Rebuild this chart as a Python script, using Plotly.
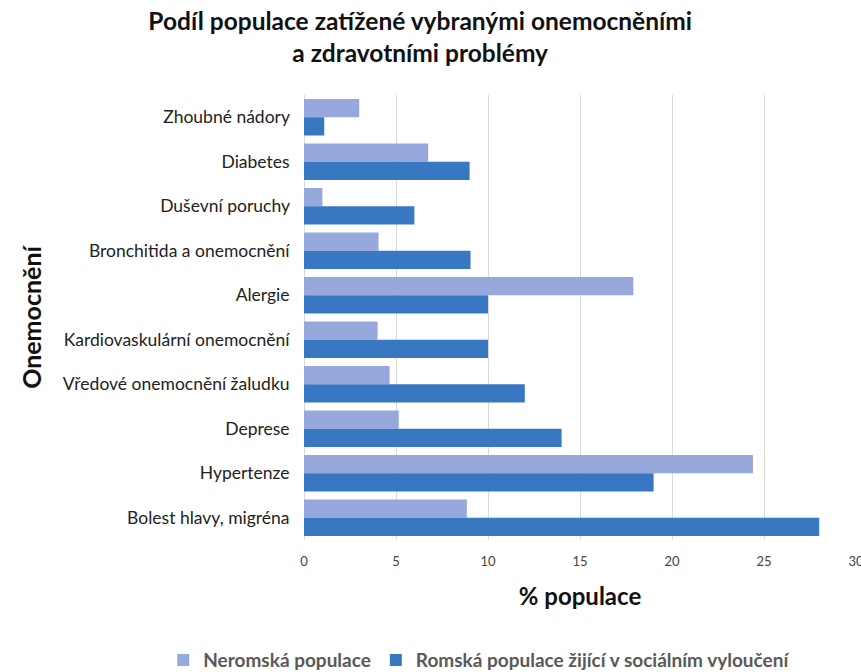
import plotly.graph_objects as go

categories = ["Zhoubné nádory", "Diabetes", "Duševní poruchy", "Bronchitida a onemocnění",
              "Alergie", "Kardiovaskulární onemocnění", "Vředové onemocnění žaludku",
              "Deprese", "Hypertenze", "Bolest hlavy, migréna"]
neromska = [3.0, 6.75, 1.0, 4.05, 17.9, 4.0, 4.65, 5.15, 24.4, 8.85]
romska = [1.1, 9.0, 6.0, 9.05, 10.0, 10.0, 12.0, 14.0, 19.0, 28.0]
x_ticks = [0, 5, 10, 15, 20, 25, 30]

FONT = "Lato, 'Open Sans', sans-serif"

fig = go.Figure()
fig.add_trace(go.Bar(y=categories, x=neromska, orientation="h", name="Neromská populace",
                     marker=dict(color="#97A9DC", line=dict(width=0))))
fig.add_trace(go.Bar(y=categories, x=romska, orientation="h",
                     name="Romská populace žijící v sociálním vyloučení",
                     marker=dict(color="#3878C2", line=dict(width=0))))

fig.update_layout(
    width=861, height=672,
    barmode="group", bargap=0.18, bargroupgap=0,
    plot_bgcolor="white", paper_bgcolor="white",
    margin=dict(l=304, r=5, t=95, b=132, autoexpand=False),
    font=dict(family=FONT, color="#222222"),
    title=dict(text="<b>Podíl populace zatížené vybranými onemocněními<br>a zdravotními problémy</b>",
               x=0.488, xref="container", xanchor="center", y=1 - 30 / 672, yref="container",
               yanchor="middle",
               font=dict(size=24.5, color="#111111", family=FONT)),
    xaxis=dict(range=[0, 30], tickvals=x_ticks, showgrid=True, gridcolor="#D9D9D9", gridwidth=1,
               zeroline=True, zerolinecolor="#D9D9D9", zerolinewidth=1, automargin=False,
               tickfont=dict(size=13, color="#444444"), ticks="", showline=False,
               ticklabelstandoff=12, ticklabeloverflow="allow",
               title=dict(text="<b>% populace</b>", font=dict(size=24, color="#111111"), standoff=20)),
    yaxis=dict(autorange="reversed", showgrid=False, ticks="", showline=False, automargin=False,
               tickfont=dict(size=17.5, color="#222222"), ticksuffix="   ",
               title=dict(text="<b>Onemocnění</b>", font=dict(size=25, color="#111111"), standoff=14)),
    legend=dict(orientation="h", xref="paper", x=-0.255, xanchor="left",
                yref="paper", y=-0.27, yanchor="middle",
                font=dict(size=19, color="#595959", weight=700), traceorder="normal", itemwidth=30),
)

fig.write_html("out.html", post_script="document.body.style.margin='0';",
               config={"displayModeBar": False})
